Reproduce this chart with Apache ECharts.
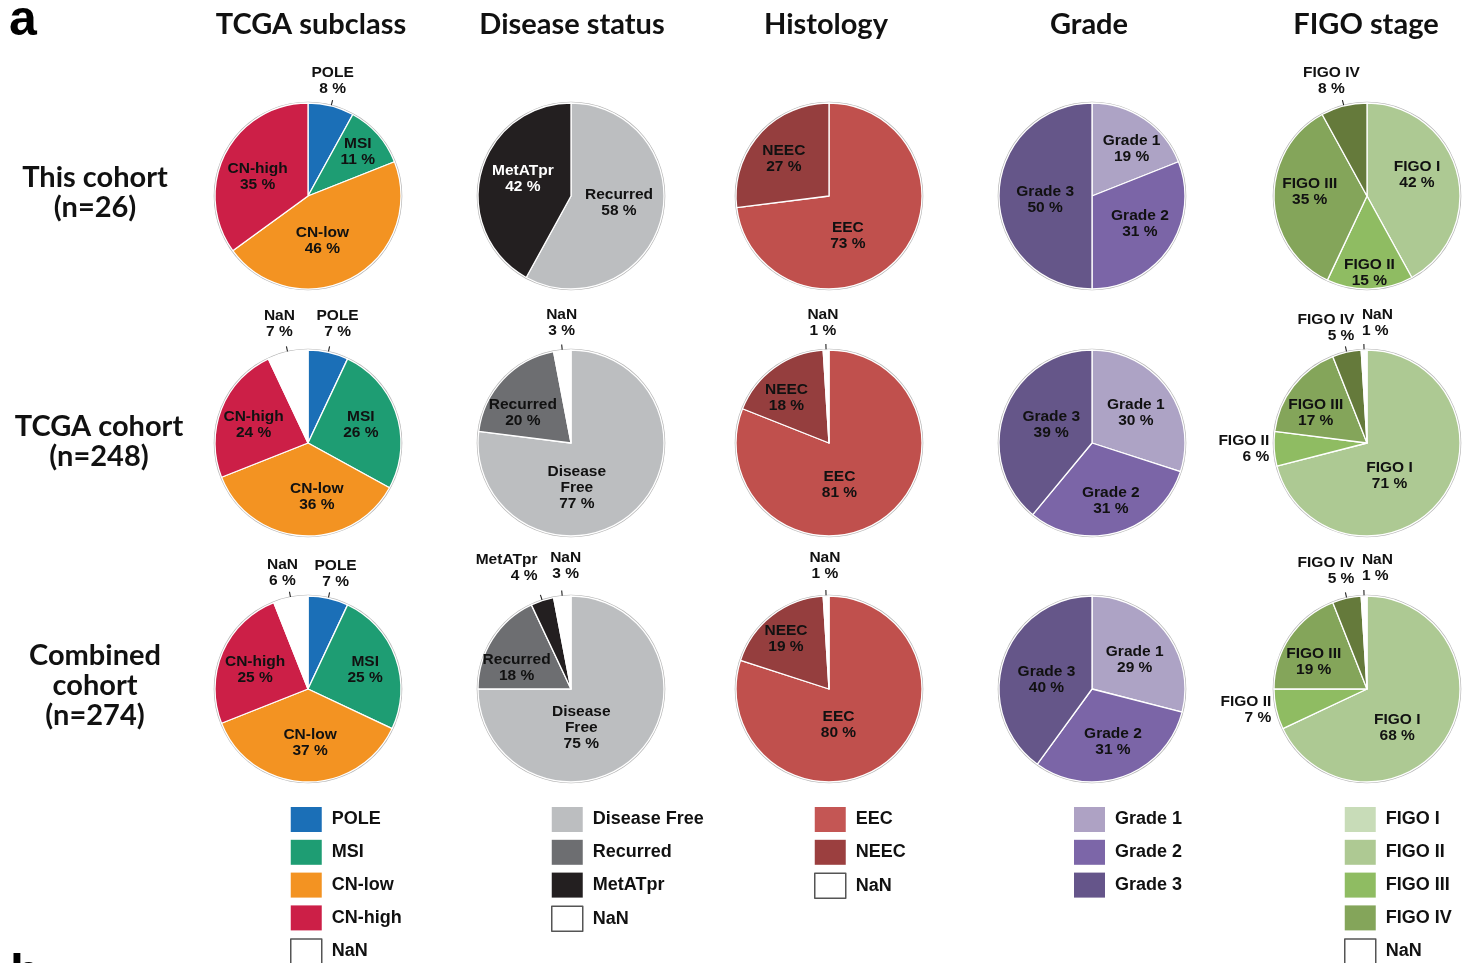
<!DOCTYPE html>
<html>
<head>
<meta charset="utf-8">
<script src="https://cdn.jsdelivr.net/npm/echarts@6/dist/echarts.min.js"></script>
<style>
  html, body { margin: 0; padding: 0; background: #ffffff; }
  #chart { width: 1475px; height: 963px; }
</style>
</head>
<body>
<div id="chart"></div>
<script>
// ---- Text ----
const columnTitles = ['TCGA subclass', 'Disease status', 'Histology', 'Grade', 'FIGO stage'];
const cohortNames = ['This cohort\n(n=26)', 'TCGA cohort\n(n=248)', 'Combined\ncohort\n(n=274)'];

// ---- Categories ----
const tcgaCategories = ['POLE', 'MSI', 'CN-low', 'CN-high', 'NaN'];
const diseaseCategories = ['Disease Free', 'Recurred', 'MetATpr', 'NaN'];
const histologyCategories = ['EEC', 'NEEC', 'NaN'];
const gradeCategories = ['Grade 1', 'Grade 2', 'Grade 3'];
const figoCategories = ['FIGO I', 'FIGO II', 'FIGO III', 'FIGO IV', 'NaN'];

// ---- Percentages (this cohort / TCGA cohort / combined cohort) ----
const tcgaThis = [8, 11, 46, 35, 0];
const tcgaTcga = [7, 26, 36, 24, 7];
const tcgaCombined = [7, 25, 37, 25, 6];

const diseaseThis = [0, 58, 42, 0];
const diseaseTcga = [77, 20, 0, 3];
const diseaseCombined = [75, 18, 4, 3];

const histologyThis = [73, 27, 0];
const histologyTcga = [81, 18, 1];
const histologyCombined = [80, 19, 1];

const gradeThis = [19, 31, 50];
const gradeTcga = [30, 31, 39];
const gradeCombined = [29, 31, 40];

const figoThis = [42, 15, 35, 8, 0];
const figoTcga = [71, 6, 17, 5, 1];
const figoCombined = [68, 7, 19, 5, 1];

// ---- Styling ----
const sliceColors = {
  tcga: { 'POLE': '#1b6fb7', 'MSI': '#1e9d73', 'CN-low': '#f39322', 'CN-high': '#cc1f47', 'NaN': '#ffffff' },
  disease: { 'Disease Free': '#bcbec0', 'Recurred': '#6d6e71', 'MetATpr': '#231f20', 'NaN': '#ffffff' },
  histology: { 'EEC': '#c0504d', 'NEEC': '#953e3e', 'NaN': '#ffffff' },
  grade: { 'Grade 1': '#ada3c5', 'Grade 2': '#7b65a7', 'Grade 3': '#655689' },
  figo: { 'FIGO I': '#adc993', 'FIGO II': '#8fbc62', 'FIGO III': '#84a55a', 'FIGO IV': '#657a3b', 'NaN': '#ffffff' }
};
const legendColors = {
  tcga: sliceColors.tcga,
  disease: sliceColors.disease,
  histology: { 'EEC': '#c45654', 'NEEC': '#9b3f3f', 'NaN': '#ffffff' },
  grade: { 'Grade 1': '#aea2c4', 'Grade 2': '#7c66a8', 'Grade 3': '#65558a' },
  figo: { 'FIGO I': '#c8dcb8', 'FIGO II': '#aec993', 'FIGO III': '#8fbc62', 'FIGO IV': '#84a55a', 'NaN': '#ffffff' }
};

const columns = [
  { key: 'tcga', cats: tcgaCategories, rows: [tcgaThis, tcgaTcga, tcgaCombined] },
  { key: 'disease', cats: diseaseCategories, rows: [diseaseThis, diseaseTcga, diseaseCombined] },
  { key: 'histology', cats: histologyCategories, rows: [histologyThis, histologyTcga, histologyCombined] },
  { key: 'grade', cats: gradeCategories, rows: [gradeThis, gradeTcga, gradeCombined] },
  { key: 'figo', cats: figoCategories, rows: [figoThis, figoTcga, figoCombined] }
];

// Layout of the pie grid
const colX = [308, 571, 829, 1092, 1367];
const rowY = [196, 443, 689];
const pieRadius = 93;
const titleX = [311, 572, 826, 1089, 1366];
const cohortX = [95, 99, 95];
const cohortY = [193, 442, 686];
const legendLeft = [290, 551, 814, 1074, 1344];

// Per-slice colour changes (row 1 of disease status uses the light grey for "Recurred")
const colorOverride = { '0-1': { 'Recurred': '#bcbec0' } };

// Label placement per pie.
// Inner labels: k = radial scale of the default spot, a = turn in degrees (clockwise).
// Outer labels: out = 'above' (leader line, text above it) or 'side' (text left of the edge).
const labelPlacement = [
  [
    { 'POLE': { out: 'above', dx: 0 }, 'MSI': { k: 1.34, a: 0 }, 'CN-low': { k: 0.95, a: 11 }, 'CN-high': { k: 1.09, a: -6 } },
    { 'Recurred': { k: 0.98, a: -6 }, 'MetATpr': { k: 1.03, a: 5, color: '#ffffff' } },
    { 'EEC': { k: 0.88, a: 23 }, 'NEEC': { k: 1.18, a: -2 } },
    { 'Grade 1': { k: 1.24, a: 6 }, 'Grade 2': { k: 1.12, a: -4 }, 'Grade 3': { k: 0.95, a: -5 } },
    { 'FIGO I': { k: 1.1, a: -9 }, 'FIGO II': { k: 1.55, a: 0 }, 'FIGO III': { k: 1.16, a: 6 }, 'FIGO IV': { out: 'above', dx: -11 } }
  ],
  [
    { 'POLE': { out: 'above', dx: 8, dy: -4 }, 'NaN': { out: 'above', dx: -7, dy: -4 }, 'MSI': { k: 1.13, a: -1 }, 'CN-low': { k: 1.09, a: -13 }, 'CN-high': { k: 1.16, a: -3 } },
    { 'Disease Free': { k: 0.91, a: 34 }, 'Recurred': { k: 1.15, a: -11 }, 'NaN': { out: 'above', dx: 0, dy: -3 } },
    { 'EEC': { k: 0.86, a: 20 }, 'NEEC': { k: 1.26, a: -7 }, 'NaN': { out: 'above', dx: -3, dy: -2 } },
    { 'Grade 1': { k: 1.08, a: 1 }, 'Grade 2': { k: 1.22, a: -2 }, 'Grade 3': { k: 0.9, a: 4 } },
    { 'FIGO I': { k: 0.81, a: 18 }, 'FIGO II': { out: 'side' }, 'FIGO III': { k: 1.2, a: -7.5 },
      'FIGO IV': { out: 'above', align: 'right', dx: 9 }, 'NaN': { out: 'above', align: 'left', dx: -2, dy: -2 } }
  ],
  [
    { 'POLE': { out: 'above', dx: 6 }, 'NaN': { out: 'above', dx: -7 }, 'MSI': { k: 1.22, a: 1 }, 'CN-low': { k: 1.09, a: -4 }, 'CN-high': { k: 1.14, a: -3 } },
    { 'Disease Free': { k: 0.8, a: 30 }, 'Recurred': { k: 1.18, a: -11 },
      'MetATpr': { out: 'above', align: 'right', dx: -3, dy: -8 }, 'NaN': { out: 'above', dx: 4, dy: -6 } },
    { 'EEC': { k: 0.74, a: 21 }, 'NEEC': { k: 1.33, a: -3 }, 'NaN': { out: 'above', dx: -1, dy: -5 } },
    { 'Grade 1': { k: 1.05, a: 3 }, 'Grade 2': { k: 1.14, a: -2 }, 'Grade 3': { k: 0.94, a: -6 } },
    { 'FIGO I': { k: 1.0, a: 20 }, 'FIGO II': { out: 'side' }, 'FIGO III': { k: 1.21, a: -7 },
      'FIGO IV': { out: 'above', align: 'right', dx: 9, dy: -3 }, 'NaN': { out: 'above', align: 'left', dx: -2, dy: -3 } }
  ]
];

const labelFont = { fontFamily: 'Liberation Sans', fontWeight: 'bold', fontSize: 15.5, lineHeight: 16, color: '#111111' };

function makeLabelLayout(cx, cy, names, placement) {
  return function (params) {
    const p = placement[names[params.dataIndex]] || {};
    if (p.out) {
      const pts = params.labelLinePoints;
      if (!pts) return {};
      const x0 = pts[0][0], y0 = pts[0][1];
      let ux = pts[1][0] - x0, uy = pts[1][1] - y0;
      const len = Math.hypot(ux, uy) || 1;
      ux /= len; uy /= len;
      if (p.out === 'side') {
        return { x: x0 - 5, y: y0, align: 'right', verticalAlign: 'middle',
                 labelLinePoints: [[x0, y0], [x0, y0], [x0, y0]] };
      }
      const sx = x0 - 9 * ux, sy = y0 - 9 * uy;
      const ex = x0 + 6 * ux, ey = y0 + 6 * uy;
      return { x: ex + (p.dx || 0), y: ey - 3 + (p.dy || 0), align: p.align || 'center', verticalAlign: 'bottom',
               labelLinePoints: [[sx, sy], [ex, ey], [ex, ey]] };
    }
    const r = params.labelRect;
    const k = p.k == null ? 1 : p.k;
    const ang = (p.a || 0) * Math.PI / 180;
    const lx = r.x + r.width / 2, ly = r.y + r.height / 2;
    const vx = lx - cx, vy = ly - cy;
    const nx = cx + k * (vx * Math.cos(ang) - vy * Math.sin(ang));
    const ny = cy + k * (vx * Math.sin(ang) + vy * Math.cos(ang));
    return { dx: nx - lx, dy: ny - ly };
  };
}

const series = [];
columns.forEach(function (col, c) {
  col.rows.forEach(function (values, r) {
    const cx = colX[c], cy = rowY[r];
    const placement = labelPlacement[r][c];
    const override = colorOverride[r + '-' + c] || {};
    const names = [];
    const data = [];
    col.cats.forEach(function (name, i) {
      const v = values[i];
      if (!v) return;
      const p = placement[name] || {};
      const item = {
        name: name,
        value: v,
        itemStyle: { color: override[name] || sliceColors[col.key][name] }
      };
      if (p.out) {
        item.label = { position: 'outside' };
        item.labelLine = { show: true, length: 6, length2: 0,
          lineStyle: { color: '#222222', width: 1.1, opacity: p.out === 'side' ? 0 : 1 } };
      }
      if (p.color) {
        item.label = Object.assign(item.label || {}, { color: p.color });
      }
      names.push(name);
      data.push(item);
    });

    // thin outline behind each pie
    series.push({
      type: 'pie', silent: true, animation: false, z: 1,
      center: [cx, cy], radius: [0, pieRadius + 1.3],
      label: { show: false }, labelLine: { show: false },
      emphasis: { disabled: true },
      data: [{ value: 1, name: '', itemStyle: { color: '#b4b4b4' } }]
    });
    series.push({
      type: 'pie', animation: false, z: 2,
      center: [cx, cy], radius: [0, pieRadius],
      startAngle: 90, clockwise: true,
      avoidLabelOverlap: false,
      itemStyle: { borderColor: '#ffffff', borderWidth: 1.3 },
      emphasis: { disabled: true },
      label: Object.assign({
        show: true, position: 'inside',
        formatter: function (prm) {
          return prm.name.replace('Disease Free', 'Disease\nFree') + '\n' + prm.value + ' %';
        }
      }, labelFont),
      labelLine: { show: false },
      labelLayout: makeLabelLayout(cx, cy, names, placement),
      data: data
    });
  });
});

const legends = columns.map(function (col, c) {
  return {
    orient: 'vertical',
    left: legendLeft[c], top: 807, height: 170,
    padding: 0,
    itemWidth: 31, itemHeight: 25, itemGap: 7.8,
    icon: 'rect',
    selectedMode: false,
    textStyle: { fontFamily: 'Liberation Sans', fontWeight: 'bold', fontSize: 18, color: '#111111', padding: [0, 0, 0, 5] },
    data: col.cats.map(function (name) {
      const fill = legendColors[col.key][name];
      const isBlank = name === 'NaN';
      return {
        name: name,
        itemStyle: isBlank
          ? { color: '#ffffff', borderColor: '#555555', borderWidth: 1.5 }
          : { color: fill, borderWidth: 0 }
      };
    })
  };
});

const graphics = [];
columnTitles.forEach(function (t, i) {
  graphics.push({ type: 'text', x: titleX[i], y: 25, silent: true,
    style: { text: t, font: 'bold 29px Lato', fill: '#111111', align: 'center', verticalAlign: 'middle',
             textAlign: 'center', textVerticalAlign: 'middle' } });
});
cohortNames.forEach(function (t, i) {
  graphics.push({ type: 'text', x: cohortX[i], y: cohortY[i], silent: true,
    style: { text: t, font: 'bold 29px Lato', lineHeight: 30, fill: '#111111', align: 'center', verticalAlign: 'middle',
             textAlign: 'center', textVerticalAlign: 'middle' } });
});
graphics.push({ type: 'text', x: 9, y: 21, silent: true,
  style: { text: 'a', font: 'bold 50px "Liberation Sans"', fill: '#000000', align: 'left', verticalAlign: 'middle',
           textAlign: 'left', textVerticalAlign: 'middle' } });
graphics.push({ type: 'text', x: 10, y: 975, silent: true,
  style: { text: 'b', font: 'bold 50px "Liberation Sans"', fill: '#000000', align: 'left', verticalAlign: 'middle',
           textAlign: 'left', textVerticalAlign: 'middle' } });

const chart = echarts.init(document.getElementById('chart'), null, { renderer: 'canvas' });
chart.setOption({
  backgroundColor: '#ffffff',
  animation: false,
  legend: legends,
  graphic: graphics,
  series: series
});
</script>
</body>
</html>
